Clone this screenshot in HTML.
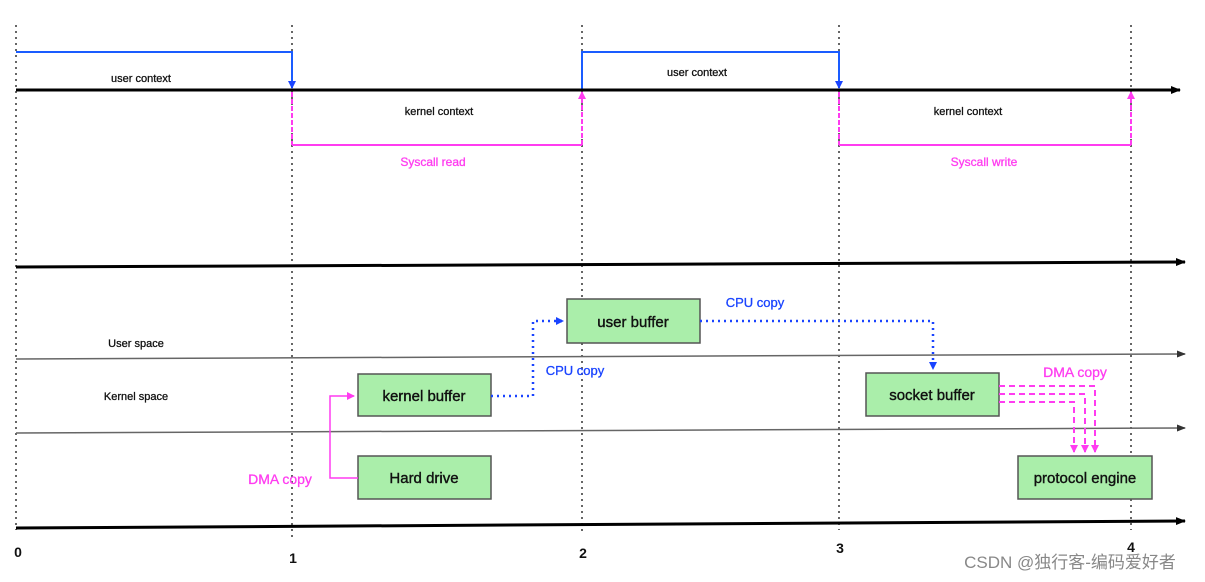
<!DOCTYPE html>
<html><head><style>body{margin:0;background:#fff}svg{display:block}</style></head><body>
<svg width="1205" height="582" viewBox="0 0 1205 582" xmlns="http://www.w3.org/2000/svg" font-family="Liberation Sans, sans-serif">
<defs>
<marker id="ak" markerWidth="10" markerHeight="8" refX="9" refY="4" orient="auto" markerUnits="userSpaceOnUse"><path d="M0,0 L10,4 L0,8z" fill="#000"/></marker>
<marker id="ag" markerWidth="9" markerHeight="7" refX="8" refY="3.5" orient="auto" markerUnits="userSpaceOnUse"><path d="M0,0 L9,3.5 L0,7z" fill="#333"/></marker>
<marker id="ab" markerWidth="8" markerHeight="8" refX="7" refY="4" orient="auto" markerUnits="userSpaceOnUse"><path d="M0,0 L8,4 L0,8z" fill="#1a44ff"/></marker>
<marker id="ap" markerWidth="8" markerHeight="8" refX="7" refY="4" orient="auto" markerUnits="userSpaceOnUse"><path d="M0,0 L8,4 L0,8z" fill="#ff3cf0"/></marker>
</defs>
<g stroke="#666" stroke-width="2" stroke-dasharray="2,4">
<line x1="16" y1="25" x2="16" y2="530"/><line x1="292" y1="25" x2="292" y2="540"/><line x1="582" y1="25" x2="582" y2="535"/><line x1="839" y1="25" x2="839" y2="530"/><line x1="1131" y1="25" x2="1131" y2="530"/>
</g>
<g fill="none" stroke-width="2">
<path d="M16,52 H292 V88" stroke="#1a5cff" marker-end="url(#ab)"/>
<path d="M582,90 V52 H839 V88" stroke="#1a5cff" marker-end="url(#ab)"/>
<path d="M292,145 H582" stroke="#ff3cf0"/>
<path d="M839,145 H1131" stroke="#ff3cf0"/>
<g stroke="#ff3cf0" stroke-dasharray="5,2">
<path d="M292,92 V145"/><path d="M582,145 V92" marker-end="url(#ap)"/>
<path d="M839,92 V145"/><path d="M1131,145 V92" marker-end="url(#ap)"/>
</g>
<line x1="16" y1="90" x2="1180" y2="90" stroke="#000" stroke-width="3" marker-end="url(#ak)"/>
<line x1="16" y1="267" x2="1185" y2="262" stroke="#000" stroke-width="3" marker-end="url(#ak)"/>
<line x1="16" y1="359" x2="1185" y2="354" stroke="#666" stroke-width="1.5" marker-end="url(#ag)"/>
<line x1="16" y1="433" x2="1185" y2="428" stroke="#666" stroke-width="1.5" marker-end="url(#ag)"/>
<line x1="16" y1="528" x2="1185" y2="521" stroke="#000" stroke-width="3" marker-end="url(#ak)"/>
</g>
<g fill="#aaeeaa" stroke="#555" stroke-width="1.5">
<rect x="567" y="299" width="133" height="44"/><rect x="358" y="374" width="133" height="42"/><rect x="358" y="456" width="133" height="43"/><rect x="866" y="373" width="133" height="43"/><rect x="1018" y="456" width="134" height="43"/>
</g>
<g font-size="15" text-anchor="middle" fill="#111" stroke="#111" stroke-width="0.4">
<text x="633" y="327">user buffer</text><text x="424" y="401">kernel buffer</text><text x="424" y="483">Hard drive</text><text x="932" y="400">socket buffer</text><text x="1085" y="483">protocol engine</text>
</g>
<g fill="none" stroke="#1a44ff" stroke-width="2.5" stroke-dasharray="2,4">
<path d="M491,396 H533 V321 H563" marker-end="url(#ab)"/>
<path d="M700,321 H933 V369" marker-end="url(#ab)"/>
</g>
<path d="M358,478 H330 V396 H354" fill="none" stroke="#ff3cf0" stroke-width="1.5" marker-end="url(#ap)"/>
<g fill="none" stroke="#ff3cf0" stroke-width="2" stroke-dasharray="6,4">
<path d="M999,386 H1095 V452" marker-end="url(#ap)"/><path d="M999,394 H1085 V452" marker-end="url(#ap)"/><path d="M999,402 H1074 V452" marker-end="url(#ap)"/>
</g>
<g font-size="11" text-anchor="middle" fill="#111" stroke="#111" stroke-width="0.3">
<text x="141" y="82">user context</text><text x="439" y="115">kernel context</text><text x="697" y="76">user context</text><text x="968" y="115">kernel context</text>
<text x="136" y="347">User space</text><text x="136" y="400">Kernel  space</text>
</g>
<g font-size="12" text-anchor="middle" fill="#ff3cf0" stroke="#ff3cf0" stroke-width="0.3"><text x="433" y="166">Syscall read</text><text x="984" y="166">Syscall write</text></g>
<g font-size="13" fill="#1a44ff" text-anchor="middle" stroke="#1a44ff" stroke-width="0.3"><text x="755" y="307">CPU copy</text><text x="575" y="375">CPU copy</text></g>
<g font-size="14" fill="#ff3cf0" text-anchor="middle" stroke="#ff3cf0" stroke-width="0.3"><text x="280" y="484">DMA copy</text><text x="1075" y="377">DMA copy</text></g>
<g font-size="14" fill="#111" text-anchor="middle" font-weight="bold"><text x="18" y="557">0</text><text x="293" y="563">1</text><text x="583" y="558">2</text><text x="840" y="553">3</text><text x="1131" y="552">4</text></g>
<text x="1070" y="568" font-size="17" fill="#888" text-anchor="middle" font-family="Liberation Sans, Noto Sans CJK SC, sans-serif">CSDN @独行客-编码爱好者</text>
</svg>
</body></html>
